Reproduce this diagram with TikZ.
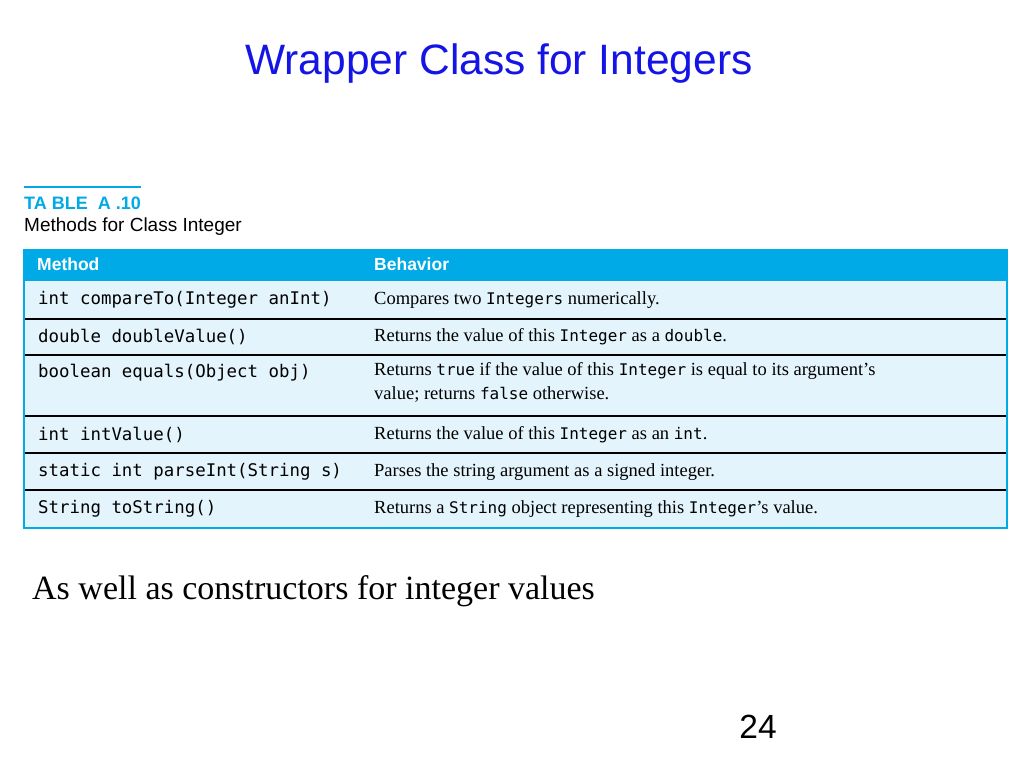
\documentclass[tikz,border=0pt]{standalone}
\usepackage{fontspec}
\setmainfont{Liberation Serif}
\setsansfont{Liberation Sans}
\setmonofont{DejaVu Sans Mono}
\definecolor{hdr}{RGB}{0,170,230}
\definecolor{rowbg}{RGB}{228,244,252}
\definecolor{ttl}{RGB}{20,20,230}
\newcommand{\ct}[1]{{\ttfamily\fontsize{16}{20}\selectfont #1}}
\begin{document}
\begin{tikzpicture}[x=1pt,y=-1pt,
  code/.style={anchor=west,inner sep=0pt,font=\ttfamily\fontsize{17.4}{20}\selectfont},
  beh/.style={anchor=west,inner sep=0pt,align=left,font=\fontsize{18.5}{24}\selectfont},
  hd/.style={anchor=west,inner sep=0pt,text=white,font=\sffamily\bfseries\fontsize{17.5}{20}\selectfont}]
\useasboundingbox (0,0) rectangle (1024,768);
\fill[white] (0,0) rectangle (1024,768);
\node[text=ttl,font=\sffamily\fontsize{42.5}{46}\selectfont] (title) at (499,64) {Wrapper Class for Integers};
\draw[hdr,line width=1.5pt] (24,187) -- (141,187);
\node[anchor=west,inner sep=0pt,text=hdr,font=\sffamily\bfseries\fontsize{18}{20}\selectfont] (tab) at (24,203) {TA BLE \ A .10};
\node[anchor=west,inner sep=0pt,font=\sffamily\fontsize{19}{21}\selectfont] (cap) at (24,227) {Methods for Class Integer};
\fill[rowbg] (24,250) rectangle (1007,528);
\fill[hdr] (24,250) rectangle (1007,281);
\draw[hdr,line width=1.2pt] (24,250) rectangle (1007,528);
\foreach \y in {319,355,416,453,490} \draw[black,line width=1.2pt] (25,\y) -- (1006,\y);
\node[hd] (h1) at (37,264) {Method};
\node[hd] (h2) at (374,264) {Behavior};
\node[code] (m1) at (38,300) {int compareTo(Integer anInt)};
\node[beh] (b1) at (374,300) {Compares two \ct{Integers} numerically.};
\node[code] (m2) at (38,337) {double doubleValue()};
\node[beh] (b2) at (374,337) {Returns the value of this \ct{Integer} as a \ct{double}.};
\node[code] (m3) at (38,373) {boolean equals(Object obj)};
\node[beh,anchor=north west] (b3) at (374,362) {Returns \ct{true} if the value of this \ct{Integer} is equal to its argument's\\value; returns \ct{false} otherwise.};
\node[code] (m4) at (38,435) {int intValue()};
\node[beh] (b4) at (374,435) {Returns the value of this \ct{Integer} as an \ct{int}.};
\node[code] (m5) at (38,472) {static int parseInt(String s)};
\node[beh] (b5) at (374,472) {Parses the string argument as a signed integer.};
\node[code] (m6) at (38,509) {String toString()};
\node[beh] (b6) at (374,509) {Returns a \ct{String} object representing this \ct{Integer}'s value.};
\node[anchor=west,inner sep=0pt,font=\fontsize{34}{38}\selectfont] (note) at (32,591) {As well as constructors for integer values};
\node[font=\sffamily\fontsize{33.5}{36}\selectfont] (pg) at (758,727) {24};
\end{tikzpicture}
\end{document}
